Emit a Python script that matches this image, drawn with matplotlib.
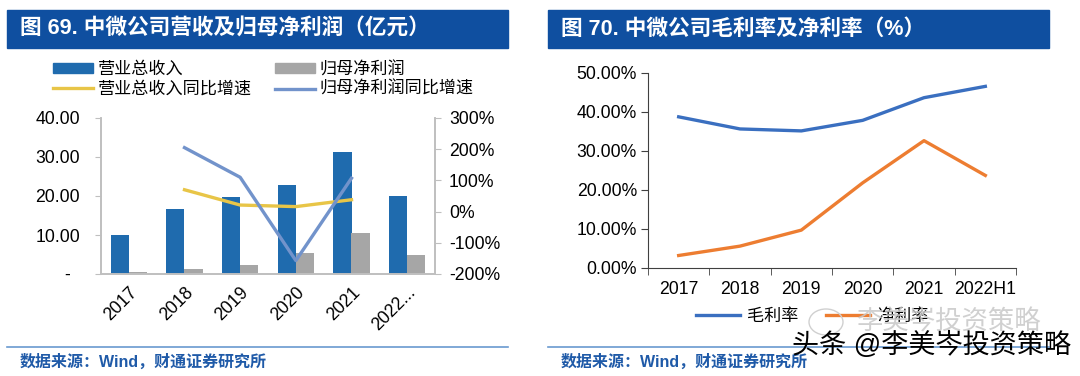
import matplotlib.pyplot as plt
import numpy as np
from matplotlib.patches import Rectangle, Ellipse
from matplotlib.lines import Line2D

plt.rcParams['font.family'] = ['Liberation Sans', 'Noto Sans CJK SC']

# 左图数据
years_l = ["2017", "2018", "2019", "2020", "2021", "2022..."]
revenue = [10.0, 16.6, 19.7, 22.9, 31.2, 19.9]
net_profit = [0.6, 1.2, 2.2, 5.3, 10.4, 4.9]
rev_yoy = [np.nan, 70, 21, 16, 38, np.nan]
np_yoy = [np.nan, 205, 110, -157, 107, np.nan]

# 右图数据
years_r = ["2017", "2018", "2019", "2020", "2021", "2022H1"]
gross_margin = [38.7, 35.6, 35.1, 37.8, 43.6, 46.5]
net_margin = [3.2, 5.6, 9.7, 21.8, 32.6, 23.7]

W, H = 1080, 376
fig = plt.figure(figsize=(W / 100, H / 100), dpi=100)

title_blue = '#0F4FA0'
src_blue = '#1F5AA8'
c_rev, c_np = '#1F6BAE', '#A6A6A6'
c_yel, c_lb = '#E8C547', '#7293CB'
tick_fs = 12.7

# 标题栏 + 底部来源
for x0, txt in [(7, "图 69. 中微公司营收及归母净利润（亿元）"),
                (548, "图 70. 中微公司毛利率及净利率（%）")]:
    fig.patches.append(Rectangle((x0 / W, 1 - 48 / H), 501 / W, 38 / H,
                                 transform=fig.transFigure, color=title_blue))
    fig.text((x0 + 13) / W, 1 - 29 / H, txt, color='white', fontsize=15.6,
             fontweight='bold', va='center', ha='left')
    fig.add_artist(Line2D([x0 / W, (x0 + 501) / W], [1 - 347 / H] * 2,
                          color='#6A9AD0', lw=1.2))
    fig.text((x0 + 13) / W, 1 - 362 / H, "数据来源：Wind，财通证券研究所",
             color=src_blue, fontsize=11.5, fontweight='bold', va='center')

# ---- 左图 ----
ax = fig.add_axes([101 / W, 1 - 274 / H, 334 / W, 156 / H])
x = np.arange(len(years_l))
bw = 0.325
ax.bar(x - bw / 2, revenue, bw, color=c_rev)
ax.bar(x + bw / 2, net_profit, bw, color=c_np)
ax.set_ylim(0, 40)
ax.set_xlim(-0.5, 5.5)
ax.set_yticks([0, 10, 20, 30, 40])
ax.set_yticklabels(["-  ", "10.00", "20.00", "30.00", "40.00"])
ax.set_xticks(x)
ax.set_xticklabels(years_l, rotation=45, ha='right', rotation_mode='anchor')
ax.tick_params(axis='y', length=4, color='#BFBFBF', labelsize=tick_fs, pad=11)
ax.tick_params(axis='x', length=0, labelsize=tick_fs, pad=7)
ax.spines['top'].set_visible(False)
for s in ['left', 'bottom', 'right']:
    ax.spines[s].set_color('#BFBFBF')
    ax.spines[s].set_linewidth(1.2)

ax2 = ax.twinx()
ax2.plot(x, rev_yoy, color=c_yel, lw=2.4)
ax2.plot(x, np_yoy, color=c_lb, lw=2.4)
ax2.set_ylim(-200, 300)
ax2.set_yticks(range(-200, 301, 100))
ax2.set_yticklabels([f"{v}%" for v in range(-200, 301, 100)])
ax2.tick_params(axis='y', length=4, color='#BFBFBF', labelsize=tick_fs, pad=6)
ax2.spines['top'].set_visible(False)
for s in ['left', 'bottom', 'right']:
    ax2.spines[s].set_color('#BFBFBF')
    ax2.spines[s].set_linewidth(1.2)

handles = [Rectangle((0, 0), 1, 1, color=c_rev),
           Line2D([], [], color=c_yel, lw=2.4),
           Rectangle((0, 0), 1, 1, color=c_np),
           Line2D([], [], color=c_lb, lw=2.4)]
labels = ['营业总收入', '营业总收入同比增速', '归母净利润', '归母净利润同比增速']
fig.legend(handles, labels, ncol=2, loc='upper left',
           bbox_to_anchor=(53 / W, 1 - 61 / H), frameon=False, fontsize=12.3,
           handlelength=2.35, handleheight=0.45, columnspacing=1.3,
           handletextpad=0.3, labelspacing=0.22, borderpad=0, borderaxespad=0)

# ---- 右图 ----
bx = fig.add_axes([648 / W, 1 - 268 / H, 368 / W, 195.3 / H])
xr = np.arange(len(years_r))
bx.plot(xr, gross_margin, color='#3A6FC0', lw=2.4, label='毛利率')
bx.plot(xr, net_margin, color='#ED7D31', lw=2.4, label='净利率')
bx.set_xlim(-0.5, 5.5)
bx.set_ylim(0, 50)
bx.set_yticks(range(0, 51, 10))
bx.set_yticklabels([f"{v:.2f}%" for v in range(0, 51, 10)])
bx.set_xticks(xr)
bx.set_xticklabels(years_r)
bx.set_xticks(np.arange(-0.5, 6, 1), minor=True)
bx.tick_params(axis='x', which='major', length=0, labelsize=tick_fs, pad=9)
bx.tick_params(axis='x', which='minor', length=5, color='#404040', direction='out')
bx.tick_params(axis='y', length=5, color='#404040', labelsize=tick_fs, pad=3)
for s in ['top', 'right']:
    bx.spines[s].set_visible(False)
for s in ['left', 'bottom']:
    bx.spines[s].set_color('#404040')
bx.legend(ncol=2, loc='center', bbox_to_anchor=((812 - 648) / 368, -48 / 195.3),
          frameon=False, fontsize=12.3, handlelength=2.6, columnspacing=1.6,
          handletextpad=0.4)

# 水印
fig.patches.append(Ellipse((826 / W, 1 - 322 / H), 34 / W, 26 / H,
                           transform=fig.transFigure, fill=False,
                           ec='#D0D0D0', lw=1.0, zorder=10))
fig.text(856 / W, 1 - 322 / H, "李美岑投资策略", color='#C8C8C8', fontsize=19,
         va='center', ha='left', alpha=0.85, zorder=10)
fig.text(792 / W, 1 - 345 / H, "头条 @李美岑投资策略", color='black', fontsize=19.5,
         va='center', ha='left', zorder=11)

fig.savefig("out.png", dpi=100)
